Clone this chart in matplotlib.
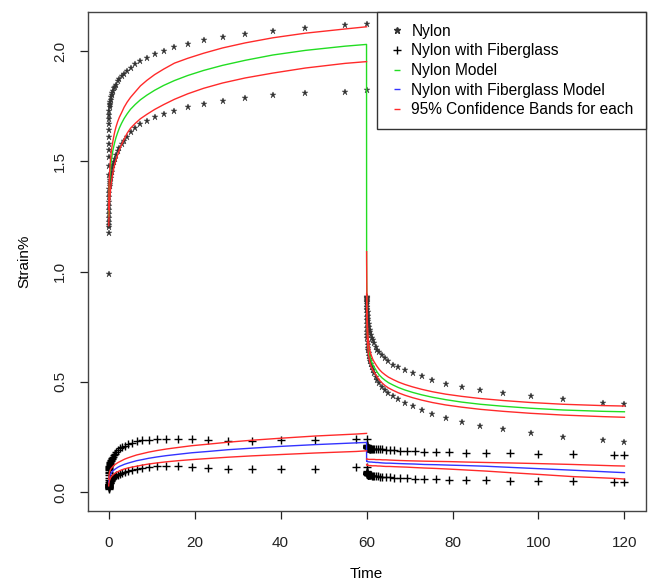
import numpy as np
import matplotlib
matplotlib.use("Agg")
import matplotlib.pyplot as plt
from matplotlib.lines import Line2D

plt.rcParams["font.family"] = ["Liberation Sans", "DejaVu Sans"]

# ── Time grids ────────────────────────────────────────────────────
T_NY = [0, 0.02, 0.03, 0.04, 0.05, 0.06, 0.075, 0.09, 0.11, 0.13,
        0.16, 0.19, 0.23, 0.28, 0.33, 0.40, 0.48, 0.58, 0.69, 0.83,
        1.0, 1.2, 1.4, 1.7, 2.1, 2.5, 3.0, 3.6, 4.3, 5.1,
        6.2, 7.4, 8.9, 10.7, 12.8, 15.3, 18.4, 22.1, 26.5, 31.8,
        38.2, 45.8, 55, 60]
T_FG = [0, 0.02, 0.03, 0.04, 0.05, 0.06, 0.07, 0.08, 0.1, 0.12,
        0.14, 0.17, 0.2, 0.24, 0.29, 0.35, 0.42, 0.5, 0.6, 0.72,
        0.87, 1.04, 1.25, 1.5, 1.8, 2.2, 2.6, 3.1, 3.7, 4.5,
        5.4, 6.5, 7.8, 9.3, 11.2, 13.4, 16.1, 19.3, 23.1, 27.8,
        33.3, 40, 48, 57.6, 60]
LOAD_END = 60

# ── Nylon, loading (creep) ────────────────────────────────────────
NY_A = [1.20, 1.44, 1.48, 1.52, 1.55, 1.58, 1.61, 1.64, 1.67, 1.69,
        1.71, 1.73, 1.748, 1.753, 1.76, 1.77, 1.78, 1.79, 1.80, 1.81,
        1.82, 1.831, 1.838, 1.848, 1.862, 1.873, 1.885, 1.898, 1.91, 1.924,
        1.94, 1.955, 1.97, 1.985, 2.0, 2.017, 2.033, 2.05, 2.065, 2.077,
        2.091, 2.104, 2.118, 2.122]
NY_B = [0.987, 1.173, 1.211, 1.226, 1.241, 1.26, 1.279, 1.298, 1.317, 1.336,
        1.355, 1.375, 1.39, 1.398, 1.405, 1.415, 1.425, 1.44, 1.453, 1.468,
        1.483, 1.497, 1.51, 1.528, 1.546, 1.562, 1.578, 1.592, 1.612, 1.633,
        1.652, 1.669, 1.684, 1.699, 1.713, 1.73, 1.746, 1.76, 1.775, 1.788,
        1.80, 1.81, 1.815, 1.821]
NY_MODEL = [1.25, 1.27, 1.285, 1.297, 1.308, 1.32, 1.335, 1.35, 1.365,
            1.38, 1.395, 1.41, 1.425, 1.44, 1.457, 1.475, 1.493, 1.511, 1.53,
            1.55, 1.568, 1.585, 1.607, 1.63, 1.651, 1.672, 1.694, 1.715, 1.736,
            1.758, 1.779, 1.80, 1.822, 1.844, 1.866, 1.889, 1.912, 1.935, 1.958,
            1.982, 2.003, 2.022, 2.030]
NY_UP = [1.28, 1.305, 1.322, 1.337, 1.35, 1.365, 1.378, 1.393, 1.407,
         1.423, 1.437, 1.452, 1.468, 1.483, 1.50, 1.517, 1.537, 1.555, 1.573,
         1.592, 1.613, 1.632, 1.655, 1.68, 1.70, 1.72, 1.745, 1.768, 1.79,
         1.815, 1.842, 1.867, 1.893, 1.918, 1.945, 1.967, 1.99, 2.014, 2.037,
         2.06, 2.081, 2.10, 2.11]
NY_LO = [1.208, 1.212, 1.217, 1.224, 1.232, 1.243, 1.253, 1.266, 1.278,
         1.292, 1.305, 1.318, 1.333, 1.346, 1.362, 1.378, 1.397, 1.413, 1.43,
         1.447, 1.468, 1.485, 1.505, 1.53, 1.552, 1.575, 1.60, 1.627, 1.65,
         1.672, 1.693, 1.713, 1.735, 1.757, 1.781, 1.806, 1.831, 1.855, 1.878,
         1.90, 1.923, 1.944, 1.952]

# ── Nylon, recovery (times = 60 + T_NY[1:]) ───────────────────────
NY_A_REC = [0.885, 0.883, 0.88, 0.878, 0.875, 0.872, 0.868, 0.86, 0.852,
            0.84, 0.828, 0.815, 0.80, 0.787, 0.774, 0.762, 0.749, 0.737, 0.725,
            0.713, 0.70, 0.688, 0.674, 0.659, 0.646, 0.633, 0.62, 0.606, 0.592,
            0.578, 0.565, 0.553, 0.54, 0.525, 0.508, 0.492, 0.476, 0.462, 0.448,
            0.435, 0.42, 0.405, 0.399]
NY_B_REC = [0.86, 0.84, 0.825, 0.81, 0.795, 0.78, 0.762, 0.745, 0.728,
            0.712, 0.697, 0.682, 0.668, 0.655, 0.642, 0.629, 0.616, 0.604, 0.592,
            0.58, 0.565, 0.552, 0.538, 0.522, 0.508, 0.493, 0.478, 0.464, 0.45,
            0.435, 0.42, 0.405, 0.388, 0.37, 0.353, 0.338, 0.319, 0.301, 0.284,
            0.268, 0.251, 0.236, 0.228]
NY_MODEL_REC = [1.04, 1.0, 0.96, 0.93, 0.90, 0.865, 0.84, 0.81, 0.785,
                0.758, 0.738, 0.718, 0.70, 0.685, 0.668, 0.653, 0.639, 0.626, 0.613,
                0.60, 0.59, 0.58, 0.569, 0.556, 0.543, 0.53, 0.518, 0.507, 0.496,
                0.485, 0.474, 0.463, 0.452, 0.441, 0.43, 0.419, 0.408, 0.398, 0.389,
                0.38, 0.372, 0.366, 0.364]
NY_UP_REC = [1.09, 1.05, 1.01, 0.975, 0.945, 0.91, 0.88, 0.85, 0.822,
             0.795, 0.772, 0.75, 0.73, 0.713, 0.696, 0.68, 0.665, 0.651, 0.638,
             0.626, 0.615, 0.604, 0.593, 0.58, 0.568, 0.555, 0.543, 0.532, 0.521,
             0.51, 0.499, 0.488, 0.477, 0.466, 0.455, 0.444, 0.434, 0.424, 0.415,
             0.406, 0.398, 0.392, 0.39]
NY_LO_REC = [0.90, 0.87, 0.845, 0.82, 0.80, 0.78, 0.76, 0.742, 0.725,
             0.707, 0.692, 0.677, 0.662, 0.648, 0.634, 0.621, 0.608, 0.596, 0.585,
             0.574, 0.564, 0.555, 0.545, 0.533, 0.521, 0.508, 0.495, 0.483, 0.472,
             0.461, 0.45, 0.439, 0.428, 0.417, 0.406, 0.395, 0.385, 0.375, 0.366,
             0.357, 0.349, 0.342, 0.339]

# ── Nylon with fiberglass, loading ────────────────────────────────
FG_A = [0.024, 0.035, 0.045, 0.055, 0.065, 0.075, 0.085, 0.092, 0.1, 0.105,
        0.11, 0.115, 0.12, 0.124, 0.128, 0.132, 0.136, 0.14, 0.145, 0.15,
        0.155, 0.16, 0.167, 0.174, 0.182, 0.19, 0.198, 0.205, 0.211, 0.217,
        0.224, 0.231, 0.235, 0.238, 0.24, 0.242, 0.242, 0.239, 0.236, 0.233,
        0.232, 0.234, 0.236, 0.239, 0.239]
FG_B = [0.015, 0.018, 0.02, 0.022, 0.024, 0.026, 0.027, 0.028, 0.03, 0.032,
        0.034, 0.036, 0.038, 0.04, 0.043, 0.046, 0.049, 0.052, 0.055, 0.058,
        0.062, 0.065, 0.068, 0.071, 0.075, 0.079, 0.083, 0.087, 0.091, 0.096,
        0.1, 0.105, 0.109, 0.113, 0.116, 0.118, 0.116, 0.112, 0.108, 0.104,
        0.103, 0.103, 0.106, 0.112, 0.112]
FG_MODEL = [0.042, 0.045, 0.048, 0.05, 0.052, 0.054, 0.056, 0.058, 0.061, 0.063,
            0.066, 0.068, 0.071, 0.074, 0.077, 0.08, 0.083, 0.086, 0.09, 0.093,
            0.097, 0.1, 0.104, 0.108, 0.113, 0.117, 0.121, 0.126, 0.131, 0.136,
            0.142, 0.147, 0.153, 0.159, 0.165, 0.171, 0.178, 0.184, 0.192, 0.199,
            0.207, 0.215, 0.223, 0.225]
FG_UP = [0.058, 0.062, 0.065, 0.067, 0.07, 0.072, 0.074, 0.077, 0.08, 0.083,
         0.086, 0.089, 0.092, 0.095, 0.098, 0.101, 0.104, 0.107, 0.11, 0.113,
         0.117, 0.121, 0.125, 0.129, 0.134, 0.138, 0.143, 0.149, 0.155, 0.161,
         0.168, 0.174, 0.181, 0.188, 0.195, 0.202, 0.21, 0.217, 0.226, 0.235,
         0.244, 0.254, 0.263, 0.266]
FG_LO = [0.028, 0.031, 0.033, 0.035, 0.037, 0.039, 0.04, 0.043, 0.045, 0.047,
         0.05, 0.052, 0.055, 0.057, 0.06, 0.063, 0.066, 0.069, 0.072, 0.075,
         0.078, 0.082, 0.085, 0.089, 0.093, 0.097, 0.101, 0.105, 0.109, 0.113,
         0.117, 0.122, 0.127, 0.132, 0.137, 0.142, 0.147, 0.152, 0.158, 0.164,
         0.17, 0.177, 0.184, 0.187]

# ── Nylon with fiberglass, recovery (times = 60 + T_FG[1:]) ───────
FG_A_REC = [0.215, 0.212, 0.21, 0.208, 0.207, 0.206, 0.205, 0.204, 0.203, 0.202,
            0.201, 0.2, 0.2, 0.199, 0.199, 0.198, 0.198, 0.197, 0.197, 0.196,
            0.196, 0.196, 0.195, 0.195, 0.194, 0.194, 0.193, 0.193, 0.191, 0.19,
            0.189, 0.187, 0.186, 0.185, 0.183, 0.182, 0.181, 0.179, 0.177, 0.175,
            0.174, 0.172, 0.169, 0.168]
FG_B_REC = [0.095, 0.092, 0.09, 0.088, 0.087, 0.086, 0.085, 0.084, 0.083, 0.082,
            0.081, 0.08, 0.079, 0.079, 0.078, 0.077, 0.077, 0.076, 0.076, 0.075,
            0.075, 0.074, 0.074, 0.073, 0.072, 0.071, 0.07, 0.069, 0.067, 0.066,
            0.064, 0.063, 0.062, 0.06, 0.058, 0.057, 0.055, 0.054, 0.053, 0.051,
            0.05, 0.048, 0.045, 0.044]
FG_MODEL_REC = [0.141, 0.141, 0.14, 0.14, 0.14, 0.14, 0.139, 0.139, 0.139, 0.139,
                0.138, 0.138, 0.138, 0.138, 0.137, 0.137, 0.137, 0.137, 0.136, 0.136,
                0.136, 0.136, 0.135, 0.135, 0.134, 0.134, 0.133, 0.132, 0.131, 0.131,
                0.13, 0.129, 0.128, 0.127, 0.125, 0.124, 0.122, 0.12, 0.117, 0.112,
                0.106, 0.099, 0.09, 0.088]
FG_UP_REC = [0.15, 0.15, 0.15, 0.15, 0.15, 0.15, 0.15, 0.149, 0.149, 0.149,
             0.149, 0.149, 0.149, 0.149, 0.149, 0.148, 0.148, 0.148, 0.148, 0.148,
             0.148, 0.148, 0.148, 0.148, 0.147, 0.147, 0.147, 0.146, 0.146, 0.145,
             0.144, 0.143, 0.142, 0.141, 0.14, 0.139, 0.138, 0.136, 0.134, 0.132,
             0.129, 0.125, 0.119, 0.118]
FG_LO_REC = [0.125, 0.125, 0.124, 0.124, 0.124, 0.123, 0.123, 0.123, 0.122, 0.122,
             0.122, 0.122, 0.121, 0.121, 0.121, 0.121, 0.12, 0.12, 0.12, 0.12,
             0.12, 0.119, 0.119, 0.119, 0.119, 0.118, 0.118, 0.117, 0.116, 0.116,
             0.115, 0.114, 0.113, 0.111, 0.109, 0.107, 0.104, 0.1, 0.095, 0.088,
             0.08, 0.07, 0.062, 0.059]

LEGEND_LABELS = ["Nylon", "Nylon with Fiberglass", "Nylon Model",
                 "Nylon with Fiberglass Model", "95% Confidence Bands for each"]

GREEN = "#22dd22"
BLUE = "#3333ff"
RED = "#ff2a2a"
STAR_C = "#333333"

# ── Derived time axes ─────────────────────────────────────────────
t_ny = np.array(T_NY)
t_fg = np.array(T_FG)
t_ny_rec = LOAD_END + t_ny[1:]
t_fg_rec = LOAD_END + t_fg[1:]

fig = plt.figure(figsize=(6.48, 5.86), dpi=100)
ax = fig.add_axes([88 / 648, 1 - 511 / 586, (645.5 - 88) / 648, (511 - 12) / 586])

# points
star_kw = dict(linestyle="None", marker="*", markersize=5,
               color=STAR_C, markeredgewidth=0.3, zorder=2)
plus_kw = dict(linestyle="None", marker="+", markersize=6,
               color="black", markeredgewidth=1.0, zorder=2)
for y in (NY_A, NY_B):
    ax.plot(t_ny, y, **star_kw)
for y in (NY_A_REC, NY_B_REC):
    ax.plot(t_ny_rec, y, **star_kw)
for y in (FG_A, FG_B):
    ax.plot(t_fg, y, **plus_kw)
for y in (FG_A_REC, FG_B_REC):
    ax.plot(t_fg_rec, y, **plus_kw)

# model lines (continuous through the unloading step)
ax.plot(np.concatenate([t_ny[1:], t_ny_rec]), NY_MODEL + NY_MODEL_REC,
        color=GREEN, lw=1.0, zorder=3)
ax.plot(np.concatenate([t_fg[1:], t_fg_rec]), FG_MODEL + FG_MODEL_REC,
        color=BLUE, lw=1.0, zorder=3)

# confidence bands, one segment per phase
for y in (NY_UP, NY_LO):
    ax.plot(t_ny[1:], y, color=RED, lw=1.0, zorder=4)
for y in (NY_UP_REC, NY_LO_REC):
    ax.plot(t_ny_rec, y, color=RED, lw=1.0, zorder=4)
for y in (FG_UP, FG_LO):
    ax.plot(t_fg[1:], y, color=RED, lw=1.0, zorder=4)
for y in (FG_UP_REC, FG_LO_REC):
    ax.plot(t_fg_rec, y, color=RED, lw=1.0, zorder=4)

ax.set_xlim(-4.8, 124.9)
ax.set_ylim(-0.086, 2.177)
ax.set_xticks(np.arange(0, 121, 20))
ax.set_yticks([0.0, 0.5, 1.0, 1.5, 2.0])
ax.set_yticklabels(["0.0", "0.5", "1.0", "1.5", "2.0"], rotation=90, va="center")
ax.tick_params(direction="out", length=6, width=0.9, colors="#222222",
               labelsize=11)
ax.tick_params(axis="x", pad=12)
ax.tick_params(axis="y", pad=9)
for s in ax.spines.values():
    s.set_color("#444444")
    s.set_linewidth(1.0)

ax.set_xlabel("Time", fontsize=11, labelpad=12)
ax.set_ylabel("Strain%", fontsize=11, labelpad=16)

handles = [
    Line2D([], [], linestyle="None", marker="*", markersize=5, color=STAR_C),
    Line2D([], [], linestyle="None", marker="+", markersize=6,
           markeredgewidth=1.0, color="black"),
    Line2D([], [], linestyle="None", marker="_", markersize=5, color=GREEN),
    Line2D([], [], linestyle="None", marker="_", markersize=5, color=BLUE),
    Line2D([], [], linestyle="None", marker="_", markersize=5, color=RED),
]
leg = ax.legend(handles, LEGEND_LABELS, loc="upper right",
                bbox_to_anchor=(1, 1), borderaxespad=0, fontsize=11.2,
                frameon=True, fancybox=False, framealpha=1,
                edgecolor="#333333", handlelength=1.0, handletextpad=0.45,
                borderpad=0.75, labelspacing=0.3)
leg.get_frame().set_linewidth(1.0)

fig.savefig("out.png", dpi=100)
